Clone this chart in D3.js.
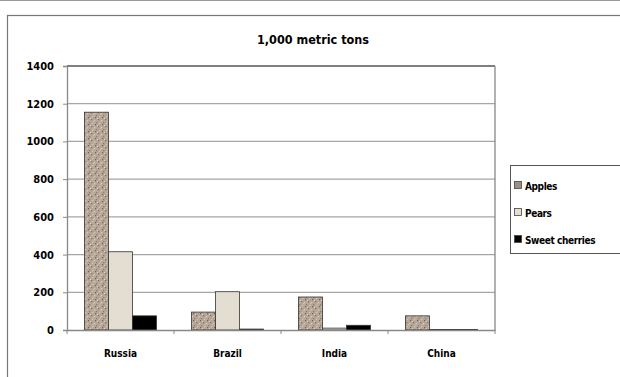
<!DOCTYPE html>
<html><head><meta charset="utf-8">
<script src="https://cdn.jsdelivr.net/npm/d3@7"></script>
<style>body{margin:0;background:#fff}svg{display:block}text{font-family:"DejaVu Sans Condensed","DejaVu Sans",sans-serif;font-weight:bold;fill:#000}</style>
</head><body><svg id="c" width="620" height="377"></svg>
<script>
const categories = ["Russia","Brazil","India","China"];
const seriesNames = ["Apples","Pears","Sweet cherries"];
const apples = [1155, 95, 175, 75];
const pears = [415, 203, 10, 3];
const cherries = [75, 5, 25, 3];
const yTicks = [0,200,400,600,800,1000,1200,1400];
const title = "1,000 metric tons";

const svg = d3.select("#c");
const defs = svg.append("defs");
const pat = defs.append("pattern").attr("id","speck").attr("patternUnits","userSpaceOnUse").attr("width",7).attr("height",7);
pat.append("rect").attr("width",7).attr("height",7).attr("fill","#b5a697");
[[0,0,"#7d6e62"],[3,1,"#d8cdc2"],[5,3,"#8a7b6e"],[1,4,"#d4c8bb"],[4,5,"#6f6156"],[2,2,"#c9bcae"],[6,6,"#e0d6cb"]].forEach(([x,y,c])=>{
  pat.append("rect").attr("x",x).attr("y",y).attr("width",1.2).attr("height",1.2).attr("fill",c);
});
const fills = ["url(#speck)","#e4ddd1","#000"];
const swatch = ["#9c8f84","#e4ddd1","#000"];

// frame
svg.append("line").attr("x1",0).attr("x2",620).attr("y1",0.5).attr("y2",0.5).attr("stroke","#999");
svg.append("rect").attr("x",7.5).attr("y",15.5).attr("width",640).attr("height",400).attr("fill","#fff").attr("stroke","#777").attr("stroke-width",1.2);

const m = {l:67, r:495, t:66, b:330};
const x0 = d3.scaleBand().domain(categories).range([m.l,m.r]).paddingInner(0).paddingOuter(0);
const x1 = d3.scaleBand().domain(seriesNames).range([0,x0.bandwidth()]).paddingInner(0).paddingOuter(0.73);
const y = d3.scaleLinear().domain([0,1400]).range([m.b,m.t]);

// grid
svg.append("g").selectAll("line").data(yTicks.filter(d=>d>0)).join("line")
  .attr("x1",m.l).attr("x2",m.r).attr("y1",d=>y(d)).attr("y2",d=>y(d))
  .attr("stroke",d=>d===1400?"#555":"#a6a6a6").attr("stroke-width",1.3);
svg.append("line").attr("x1",m.r).attr("x2",m.r).attr("y1",m.t).attr("y2",m.b).attr("stroke","#888").attr("stroke-width",1.3);

const data = [apples,pears,cherries];
const g = svg.append("g");
seriesNames.forEach((s,si)=>{
  g.selectAll(null).data(categories).join("rect")
    .attr("x",(c)=>x0(c)+x1(s)).attr("width",x1.bandwidth())
    .attr("y",(c,i)=>y(data[si][i])).attr("height",(c,i)=>y(0)-y(data[si][i]))
    .attr("fill",fills[si]).attr("stroke","#333").attr("stroke-width",0.8);
});

// axes
const ya = d3.axisLeft(y).tickValues(yTicks).tickSize(4).tickPadding(9).tickFormat(d3.format("d"));
const yg = svg.append("g").attr("transform",`translate(${m.l},0)`).call(ya);
yg.select(".domain").attr("stroke","#888").attr("stroke-width",1.3);
yg.selectAll(".tick line").attr("stroke","#888");
yg.selectAll("text").style("font-size","11px");

const xa = d3.axisBottom(x0).tickSize(0).tickPadding(20);
const xg = svg.append("g").attr("transform",`translate(0,${m.b})`).call(xa);
xg.select(".domain").attr("stroke","#888").attr("stroke-width",1.3);
xg.selectAll("text").style("font-size","10px");
svg.append("g").selectAll("line").data(categories.concat(["end"])).join("line")
  .attr("x1",(d,i)=>m.l+i*x0.bandwidth()).attr("x2",(d,i)=>m.l+i*x0.bandwidth())
  .attr("y1",m.b).attr("y2",m.b+4).attr("stroke","#888");

svg.append("text").attr("x",313).attr("y",44).attr("text-anchor","middle").style("font-size","12.5px").text(title);

// legend
const lg = svg.append("g");
lg.append("rect").attr("x",510.5).attr("y",165.5).attr("width",120).attr("height",88).attr("fill","#fff").attr("stroke","#555");
seriesNames.forEach((s,i)=>{
  const yy = 186 + i*27;
  lg.append("rect").attr("x",514.5).attr("y",yy-4.5).attr("width",7).attr("height",7).attr("fill",swatch[i]).attr("stroke","#444").attr("stroke-width",0.8);
  lg.append("text").attr("x",525).attr("y",yy+3.5).style("font-size","10px").style("letter-spacing","-0.4px").text(s);
});
</script></body></html>
